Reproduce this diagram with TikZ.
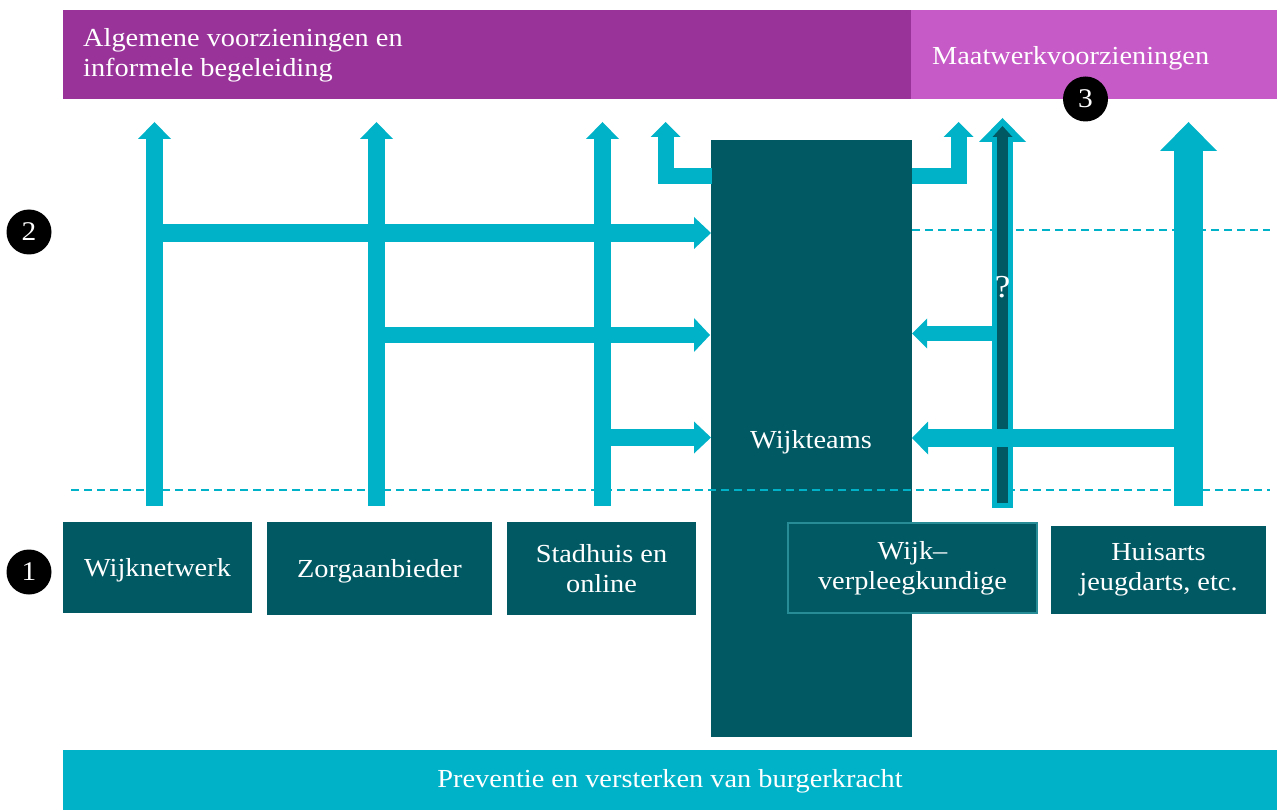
\documentclass[tikz,border=0pt]{standalone}
\usepackage{fontspec}
\setmainfont[FakeStretch=1.09]{Liberation Serif}
\usetikzlibrary{arrows.meta}
\definecolor{purpA}{RGB}{153,51,153}
\definecolor{purpB}{RGB}{198,90,198}
\definecolor{tealc}{RGB}{0,89,99}
\definecolor{cyanc}{RGB}{0,178,200}
\definecolor{bordc}{RGB}{40,140,150}
\tikzset{
  txt/.style={text=white, inner sep=0pt, font=\fontsize{26}{30}\selectfont},
  box/.style={txt, fill=tealc, align=center},
  numc/.style={circle, fill=black, text=white, minimum size=45pt, inner sep=0pt, font=\fontsize{27}{27}\selectfont},
  carr/.style n args={3}{draw=cyanc, line width=#1, line join=miter, -{Triangle[width=#2, length=#3, line width=0pt]}},
  darr/.style n args={3}{draw=tealc, line width=#1, line join=miter, -{Triangle[width=#2, length=#3, line width=0pt]}},
  dashln/.style={draw=cyanc, line width=1.5pt, dash pattern=on 8pt off 5pt},
}
\begin{document}
\begin{tikzpicture}[x=1pt,y=-1pt]
\useasboundingbox (0,0) rectangle (1277,810);
% header
\node[fill=purpA, minimum width=848pt, minimum height=89pt, inner sep=0pt, anchor=north west] (alg) at (63,10) {};
\node[fill=purpB, minimum width=366pt, minimum height=89pt, inner sep=0pt, anchor=north west] (maat) at (911,10) {};
\node[txt, align=left, anchor=west] (algt) at (83,55.5) {Algemene voorzieningen en\\informele begeleiding};
\node[txt, anchor=west] (maatt) at (932,58) {Maatwerkvoorzieningen};
\node[numc] (n3) at (1085.5,99) {3};
% wijkteams
\node[fill=tealc, minimum width=201pt, minimum height=597pt, inner sep=0pt, anchor=north west] (wt) at (711,140) {};
\node[txt] (wtt) at (811,442) {Wijkteams};
% dashed lines
\coordinate (d1a) at (912,230); \coordinate (d1b) at (1270,230);
\coordinate (d2a) at (71,490); \coordinate (d2b) at (1270,490);
\draw[dashln] (d1a) -- (d1b);
\draw[dashln] (d2a) -- (d2b);
% bottom boxes
\node[box, text depth=0pt, minimum width=189pt, minimum height=91pt] (wn) at (157.5,567.5) {Wijknetwerk};
\node[box, text depth=0pt, minimum width=225pt, minimum height=93pt] (za) at (379.5,568.5) {Zorgaanbieder};
\node[box, minimum width=189pt, minimum height=93pt] (sh) at (601.5,568.5) {Stadhuis en\\online};
\node[box, minimum width=215pt, minimum height=88pt] (ha) at (1158.5,570) {Huisarts\\jeugdarts, etc.};
% arrow coordinates
\coordinate (v1b) at (154.5,506); \coordinate (v1t) at (154.5,122);
\coordinate (v2b) at (376.5,506); \coordinate (v2t) at (376.5,122);
\coordinate (v3b) at (602.5,506); \coordinate (v3t) at (602.5,122);
\coordinate (h1a) at (146,233);   \coordinate (h1b) at (711,233);
\coordinate (h2a) at (368,335);   \coordinate (h2b) at (710,335);
\coordinate (h3a) at (594,437.5); \coordinate (h3b) at (711,437.5);
\coordinate (la) at (712,176); \coordinate (lb) at (665.5,176); \coordinate (lc) at (665.5,122);
\coordinate (ra) at (912,176); \coordinate (rb) at (958.5,176); \coordinate (rc) at (958.5,122);
\coordinate (qb) at (1002.5,508); \coordinate (qt) at (1002.5,118);
\coordinate (qib) at (1002.5,503); \coordinate (qit) at (1002.5,126);
\coordinate (hab) at (1188.5,506); \coordinate (hat) at (1188.5,122);
\coordinate (p1a) at (992,333.5); \coordinate (p1b) at (912,333.5);
\coordinate (p2a) at (1203,438);  \coordinate (p2b) at (912,438);
% arrows
\draw[carr={17pt}{33pt}{17pt}] (v1b) -- (v1t);
\draw[carr={17pt}{33pt}{17pt}] (v2b) -- (v2t);
\draw[carr={17pt}{33pt}{17pt}] (v3b) -- (v3t);
\draw[carr={18pt}{32pt}{17pt}] (h1a) -- (h1b);
\draw[carr={16pt}{34pt}{16pt}] (h2a) -- (h2b);
\draw[carr={17pt}{32pt}{17pt}] (h3a) -- (h3b);
\draw[carr={16pt}{30pt}{15pt}] (la) -- (lb) -- (lc);
\draw[carr={16pt}{30pt}{15pt}] (ra) -- (rb) -- (rc);
\draw[carr={29pt}{57pt}{29pt}] (hab) -- (hat);
\draw[carr={21pt}{47pt}{24pt}] (qb) -- (qt);
\draw[darr={11pt}{20pt}{11pt}] (qib) -- (qit);
\node[txt, font=\fontsize{32}{32}\selectfont] (qm) at (1002.5,287) {?};
\draw[carr={15pt}{30pt}{15pt}] (p1a) -- (p1b);
\draw[carr={18pt}{33pt}{16pt}] (p2a) -- (p2b);
% wijkverpleegkundige
\node[box, draw=bordc, line width=1.5pt, minimum width=249pt, minimum height=90pt] (wv) at (912.5,568) {Wijk–\\verpleegkundige};
% bottom bar
\node[fill=cyanc, minimum width=1214pt, minimum height=60pt, inner sep=0pt, anchor=north west] (prev) at (63,750) {};
\node[txt] (prevt) at (670,781) {Preventie en versterken van burgerkracht};
% number circles
\node[numc] (n1) at (29,572) {1};
\node[numc] (n2) at (29,232) {2};
\end{tikzpicture}
\end{document}
